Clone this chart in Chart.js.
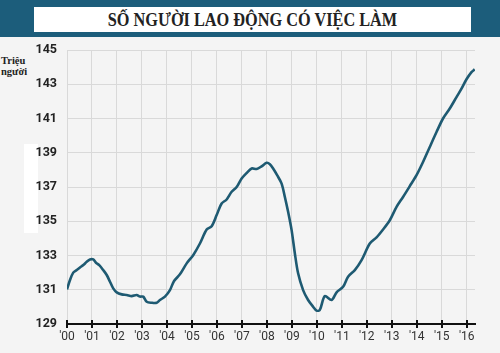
<!DOCTYPE html>
<html>
<head>
<meta charset="utf-8">
<script src="https://cdn.jsdelivr.net/npm/chart.js@4.4.0/dist/chart.umd.min.js"></script>
<style>
    html, body { margin:0; padding:0; }
    body { width:500px; height:353px; background:#f4f4f4; position:relative; overflow:hidden; }
    .banner { position:absolute; left:0; top:0; width:500px; height:37px; background:#1c5d7b; }
    .title_box { position:absolute; left:34px; top:7px; width:437px; height:25px; background:#fff;
        font-family:"Liberation Serif", serif; font-weight:bold; font-size:16.3px; color:#222;
        text-align:center; line-height:26px; transform-origin:center; }
    .title_box span { display:inline-block; transform:scaleY(1.12); }
    .unit { position:absolute; left:1px; top:55px; font-family:"Liberation Serif", serif; font-weight:bold;
        font-size:10.5px; line-height:11px; color:#222; }
    .blank { position:absolute; left:24px; top:144px; width:14px; height:89px; background:#fff; }
    #chart_wrap { position:absolute; left:0; top:0; width:500px; height:353px; }
</style>
</head>
<body>
<div class="banner"><div class="title_box"><span>SỐ NGƯỜI LAO ĐỘNG CÓ VIỆC LÀM</span></div></div>
<div class="unit">Triệu<br>người</div>
<div class="blank"></div>
<div id="chart_wrap"><canvas id="emp_chart" width="500" height="353"></canvas></div>
<script>
// vị trí theo năm (0 = 2000) và số người có việc làm (triệu)
const yearPos = [0.00, 0.12, 0.25, 0.39, 0.52, 0.65, 0.79, 0.92, 1.05, 1.16, 1.29, 1.45, 1.59, 1.72, 1.85, 1.99,
    2.19, 2.39, 2.59, 2.79, 2.92, 3.05, 3.19, 3.39, 3.59, 3.72, 3.92, 4.12, 4.28, 4.52, 4.79, 5.05, 5.32, 5.59,
    5.79, 5.99, 6.19, 6.39, 6.59, 6.79, 6.99, 7.19, 7.39, 7.59, 7.79, 7.99, 8.12, 8.25, 8.41, 8.59, 8.72, 8.85,
    8.99, 9.12, 9.25, 9.45, 9.65, 9.85, 9.99, 10.12, 10.32, 10.59, 10.79, 11.05, 11.25, 11.52, 11.79, 12.12,
    12.39, 12.65, 12.92, 13.19, 13.45, 13.72, 13.99, 14.25, 14.52, 14.79, 15.05, 15.32, 15.59, 15.79, 15.99,
    16.19, 16.32];
const employed = [131.02, 131.57, 132.0, 132.15, 132.3, 132.44, 132.63, 132.77, 132.77, 132.58, 132.44, 132.15,
    131.86, 131.47, 131.08, 130.85, 130.73, 130.69, 130.63, 130.69, 130.6, 130.6, 130.3, 130.24, 130.24, 130.4,
    130.6, 130.98, 131.5, 131.9, 132.54, 133.02, 133.7, 134.52, 134.71, 135.36, 136.04, 136.27, 136.72, 137.0,
    137.5, 137.82, 138.08, 138.05, 138.21, 138.41, 138.33, 138.08, 137.69, 137.2, 136.42, 135.55, 134.48, 133.12,
    131.96, 130.98, 130.4, 130.01, 129.78, 129.82, 130.63, 130.4, 130.85, 131.17, 131.76, 132.15, 132.73, 133.7,
    134.06, 134.52, 135.06, 135.84, 136.42, 137.05, 137.69, 138.46, 139.34, 140.21, 141.0, 141.58, 142.25, 142.74,
    143.29, 143.71, 143.87];
const yearTicks = [0, 1, 2, 3, 4, 5, 6, 7, 8, 9, 10, 11, 12, 13, 14, 15, 16];
const yearLabels = ["'00", "'01", "'02", "'03", "'04", "'05", "'06", "'07", "'08", "'09", "'10", "'11", "'12",
    "'13", "'14", "'15", "'16"];
const valueTicks = [129, 131, 133, 135, 137, 139, 141, 143, 145];

let points = yearPos.map(function(x, i){ return {x:x, y:employed[i]}; });

// vạch chia trục x cắt qua đường trục (lên trên và xuống dưới)
const crossTicks = {
    id:"crossTicks",
    afterDraw:function(chart){
        let ctx = chart.ctx;
        let xs = chart.scales.x;
        let yb = chart.chartArea.bottom;
        ctx.save();
        ctx.strokeStyle = "#111";
        ctx.lineWidth = 2;
        yearTicks.forEach(function(v){
            let px = Math.round(xs.getPixelForValue(v));
            ctx.beginPath();
            ctx.moveTo(px, yb - 4);
            ctx.lineTo(px, yb + 4);
            ctx.stroke();
        });
        ctx.restore();
    }
};

new Chart(document.getElementById("emp_chart"), {
    type:"line",
    data:{
        datasets:[
            {
                label:"Số người lao động",
                data:points,
                borderColor:"#1e5a72",
                borderWidth:2.6,
                pointRadius:0,
                tension:0.3,
                fill:false
            }
        ]
    },
    options:{
        responsive:false,
        animation:false,
        layout:{ padding:{ top:50, right:25, left:0, bottom:0 } },
        plugins:{ legend:{ display:false }, tooltip:{ enabled:false } },
        scales:{
            x:{
                type:"linear",
                min:0,
                max:16.33,
                afterFit:function(s){ s.height = 29; },
                afterBuildTicks:function(s){ s.ticks = yearTicks.map(function(v){ return {value:v}; }); },
                grid:{ color:"#d9d9d9", lineWidth:1, drawTicks:false },
                border:{ display:true, color:"#111", width:2 },
                ticks:{
                    padding:6,
                    color:"#333",
                    font:{ family:"Roboto", size:12 },
                    callback:function(v){ return yearLabels[yearTicks.indexOf(v)]; }
                }
            },
            y:{
                min:129,
                max:145,
                afterFit:function(s){ s.width = 67; },
                afterBuildTicks:function(s){ s.ticks = valueTicks.map(function(v){ return {value:v}; }); },
                grid:{ color:"#d9d9d9", lineWidth:1, drawTicks:false },
                border:{ display:false },
                ticks:{
                    padding:10,
                    color:"#222",
                    font:{ family:"Roboto", size:12.5, weight:"bold" }
                }
            }
        }
    },
    plugins:[crossTicks]
});
</script>
</body>
</html>
